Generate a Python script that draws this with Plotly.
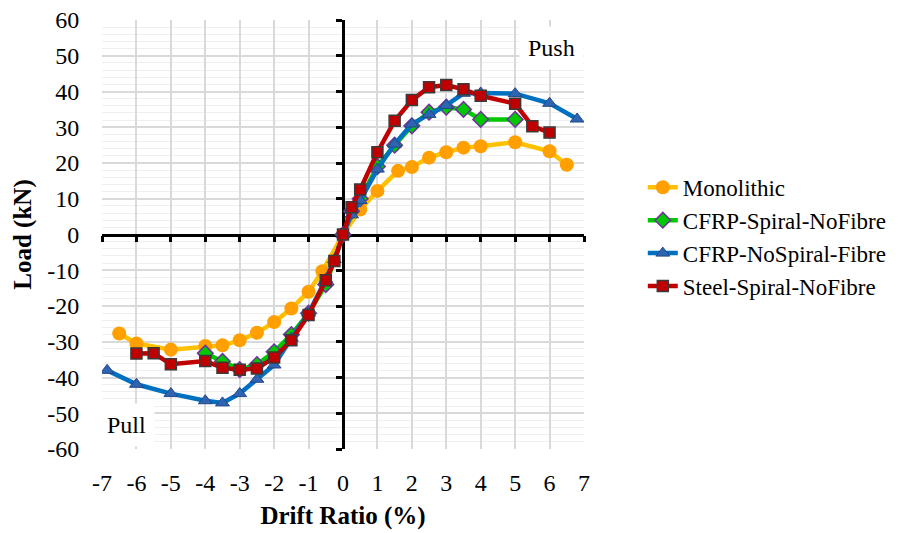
import plotly.graph_objects as go

# ---------------- data ----------------
mono_x = [-6.5, -6, -5, -4, -3.5, -3, -2.5, -2, -1.5, -1, -0.6, 0, 0.5, 1, 1.6, 2, 2.5, 3, 3.5, 4, 5, 6, 6.5]
mono_y = [-27.7, -30.5, -32.2, -31.2, -31.0, -29.6, -27.5, -24.5, -20.7, -16.0, -10.3, 0, 7.0, 12.2, 17.8, 18.9, 21.5, 23.0, 24.3, 24.7, 25.8, 23.3, 19.5]

cfrp_sp_x = [-4, -3.5, -3, -2.5, -2, -1.5, -1, -0.5, 0, 0.25, 0.5, 1, 1.5, 2, 2.5, 3, 3.5, 4, 5]
cfrp_sp_y = [-33.2, -35.5, -37.8, -36.4, -32.8, -28.0, -22.0, -14.0, 0, 6.5, 10.0, 19.0, 25.0, 30.4, 34.2, 35.6, 35.0, 32.2, 32.2]

cfrp_fib_x = [-6.85, -6, -5, -4, -3.5, -3, -2.5, -2, -1.5, -1, -0.5, -0.25, 0, 0.25, 0.5, 1, 1.5, 2, 2.5, 3, 3.5, 4, 5, 6, 6.8]
cfrp_fib_y = [-38.0, -41.9, -44.5, -46.5, -47.1, -44.5, -40.5, -36.5, -29.0, -22.0, -12.5, -7.0, 0, 5.5, 9.5, 18.3, 25.3, 30.9, 33.6, 36.1, 39.5, 39.6, 39.4, 36.7, 32.3]

steel_x = [-6, -5.5, -5, -4, -3.5, -3, -2.5, -2, -1.5, -1, -0.5, -0.25, 0, 0.25, 0.5, 1, 1.5, 2, 2.5, 3, 3.5, 4, 5, 5.5, 6]
steel_y = [-33.3, -33.2, -36.3, -35.4, -37.3, -37.8, -37.5, -34.4, -29.6, -22.5, -12.8, -7.4, 0, 7.6, 12.6, 23.0, 31.8, 37.6, 41.2, 41.8, 40.6, 38.8, 36.6, 30.3, 28.5]

series_names = ["Monolithic", "CFRP-Spiral-NoFibre", "CFRP-NoSpiral-Fibre", "Steel-Spiral-NoFibre"]

x_ticks = list(range(-7, 8))
y_ticks = list(range(-60, 61, 10))

FONT = "Liberation Serif"

fig = go.Figure()

fig.add_trace(go.Scatter(
    x=mono_x, y=mono_y, name=series_names[0], mode="lines+markers",
    line=dict(color="#FFC000", width=4.5),
    marker=dict(symbol="circle", size=14, color="#FF9F00", line=dict(width=0))))

fig.add_trace(go.Scatter(
    x=cfrp_sp_x, y=cfrp_sp_y, name=series_names[1], mode="lines+markers",
    line=dict(color="#00C800", width=4.5),
    marker=dict(symbol="diamond", size=12, color="#00C800", line=dict(color="#7030A0", width=1.5))))

fig.add_trace(go.Scatter(
    x=cfrp_fib_x, y=cfrp_fib_y, name=series_names[2], mode="lines+markers",
    line=dict(color="#0070C0", width=4.5),
    marker=dict(symbol="triangle-up", size=12, color="#2E64B0", line=dict(color="#24478A", width=1))))

fig.add_trace(go.Scatter(
    x=steel_x, y=steel_y, name=series_names[3], mode="lines+markers",
    line=dict(color="#C00000", width=4.5),
    marker=dict(symbol="square", size=11, color="#C00000", line=dict(color="#3A3A3A", width=1.5))))

# helper trace so that the crossing axes (x2/y2) are drawn
fig.add_trace(go.Scatter(x=[None], y=[None], xaxis="x2", yaxis="y2",
                         showlegend=False, hoverinfo="skip"))

fig.update_layout(
    template="none",
    width=895, height=525,
    margin=dict(l=94, r=319, t=12, b=84, autoexpand=False),
    paper_bgcolor="white", plot_bgcolor="white",
    font=dict(family=FONT, size=24, color="black"),
    showlegend=True,
    legend=dict(x=1.122, y=0.66, xanchor="left", yanchor="top",
                font=dict(family=FONT, size=23, color="black"),
                bgcolor="rgba(0,0,0,0)", tracegroupgap=0),
    xaxis=dict(range=[-7, 7], tickvals=x_ticks, ticktext=[str(v) for v in x_ticks],
               showgrid=True, gridcolor="#D9D9D9", gridwidth=1.5,
               zeroline=False, showline=False, automargin=False,
               ticklabeloverflow="allow",
               ticks="outside", ticklen=12, tickcolor="rgba(0,0,0,0)",
               tickfont=dict(family=FONT, size=24, color="black"),
               title=dict(text="<b>Drift Ratio (%)</b>", font=dict(family=FONT, size=25, color="black"), standoff=11)),
    yaxis=dict(range=[-60, 60], tickvals=y_ticks, ticktext=[str(v) for v in y_ticks],
               showgrid=True, gridcolor="#D9D9D9", gridwidth=1.5,
               minor=dict(dtick=2, showgrid=True, gridcolor="#EFEFEF", gridwidth=1),
               zeroline=False, showline=False, automargin=False,
               ticklabeloverflow="allow",
               ticks="outside", ticklen=17, tickcolor="rgba(0,0,0,0)",
               tickfont=dict(family=FONT, size=24, color="black"),
               title=dict(text="<b>Load (kN)</b>", font=dict(family=FONT, size=25, color="black"), standoff=8)),
    xaxis2=dict(overlaying="x", anchor="free", position=0.5, side="bottom",
                range=[-7, 7], tickvals=x_ticks, showticklabels=False,
                showgrid=False, zeroline=False, automargin=False,
                showline=True, linecolor="black", linewidth=2.5,
                ticks="outside", ticklen=6, tickwidth=2.5, tickcolor="black",
                layer="below traces"),
    yaxis2=dict(overlaying="y", anchor="free", position=0.5, side="left",
                range=[-60, 60], tickvals=y_ticks, showticklabels=False,
                showgrid=False, zeroline=False, automargin=False,
                showline=True, linecolor="black", linewidth=2.5,
                ticks="outside", ticklen=6, tickwidth=2.5, tickcolor="black",
                layer="below traces"),
    annotations=[
        dict(x=6.05, y=52.3, xref="x", yref="y", text="Push", showarrow=False,
             font=dict(family=FONT, size=24, color="black"),
             bgcolor="white", borderpad=8),
        dict(x=-6.3, y=-53.3, xref="x", yref="y", text="Pull", showarrow=False,
             font=dict(family=FONT, size=24, color="black"),
             bgcolor="white", borderpad=8),
    ],
)

fig.write_html("out.html")
